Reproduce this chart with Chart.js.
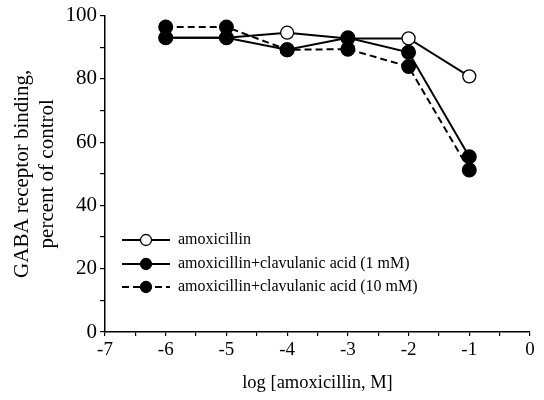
<!DOCTYPE html>
<html lang="en">
<head>
<meta charset="utf-8">
<script src="https://cdn.jsdelivr.net/npm/chart.js@4"></script>
<style>
  html, body { margin: 0; padding: 0; background: #fff; }
  #wrap { width: 544px; height: 400px; }
</style>
</head>
<body>
<div id="wrap"><canvas id="chart" width="544" height="400"></canvas></div>
<script>
    // values
    const logDose = [-6, -5, -4, -3, -2, -1];
    const amoxicillin = [93, 93, 94.6, 92.8, 92.8, 80.8];
    const clav1mM = [93, 93, 89.2, 93, 88.4, 55.4];
    const clav10mM = [96.4, 96.4, 89.2, 89.4, 83.9, 51.2];
    const seriesNames = [
        'amoxicillin',
        'amoxicillin+clavulanic acid (1 mM)',
        'amoxicillin+clavulanic acid (10 mM)'
    ];
    const xTicks = [-7, -6, -5, -4, -3, -2, -1, 0];
    const yTicks = [0, 20, 40, 60, 80, 100];

    const serif = 'Liberation Serif';

    function pts(ys) {
        return logDose.map((x, i) => ({ x: x, y: ys[i] }));
    }

    // legend drawn inside the plot, lower left
    const innerLegend = {
        id: 'innerLegend',
        afterDraw(chart) {
            const ctx = chart.ctx;
            const x0 = 122, x1 = 170, xm = 146, xt = 178;
            const rows = [240, 264, 287];
            ctx.save();
            ctx.font = '16px "' + serif + '"';
            ctx.textBaseline = 'middle';
            ctx.fillStyle = '#000';
            chart.data.datasets.forEach((ds, i) => {
                const y = rows[i];
                ctx.strokeStyle = '#000';
                ctx.lineWidth = 2;
                ctx.setLineDash(ds.borderDash || []);
                ctx.beginPath();
                ctx.moveTo(x0, y);
                ctx.lineTo(x1, y);
                ctx.stroke();
                ctx.setLineDash([]);
                ctx.beginPath();
                ctx.arc(xm, y, 5.5, 0, Math.PI * 2);
                ctx.fillStyle = ds.pointBackgroundColor;
                ctx.fill();
                ctx.lineWidth = 1.3;
                ctx.stroke();
                ctx.fillStyle = '#000';
                ctx.fillText(ds.label, xt, y);
            });
            ctx.restore();
        }
    };

    new Chart(document.getElementById('chart').getContext('2d'), {
        type: 'line',
        data: {
            datasets: [
                {
                    label: seriesNames[0],
                    data: pts(amoxicillin),
                    borderColor: '#000',
                    borderWidth: 2,
                    pointRadius: 6.5,
                    pointBackgroundColor: '#fff',
                    pointBorderColor: '#000',
                    pointBorderWidth: 1.3,
                    order: 3,
                    clip: false
                },
                {
                    label: seriesNames[1],
                    data: pts(clav1mM),
                    borderColor: '#000',
                    borderWidth: 2,
                    pointRadius: 6.5,
                    pointBackgroundColor: '#000',
                    pointBorderColor: '#000',
                    order: 1,
                    clip: false
                },
                {
                    label: seriesNames[2],
                    data: pts(clav10mM),
                    borderColor: '#000',
                    borderWidth: 2,
                    borderDash: [7, 4],
                    pointRadius: 6.5,
                    pointBackgroundColor: '#000',
                    pointBorderColor: '#000',
                    order: 2,
                    clip: false
                }
            ]
        },
        options: {
            responsive: false,
            animation: false,
            layout: { padding: { top: 11, right: 14, left: 0, bottom: 0 } },
            plugins: {
                legend: { display: false },
                tooltip: { enabled: false }
            },
            scales: {
                x: {
                    type: 'linear',
                    min: xTicks[0],
                    max: xTicks[xTicks.length - 1],
                    afterFit(scale) { scale.height = 68; },
                    border: { display: true, color: '#000', width: 1.5 },
                    grid: { drawOnChartArea: false, drawTicks: true, tickLength: 4, color: '#000', lineWidth: 1.2 },
                    ticks: {
                        stepSize: 0.5,
                        autoSkip: false,
                        maxRotation: 0,
                        padding: 3,
                        color: '#000',
                        font: { family: serif, size: 19 },
                        callback: (v) => xTicks.includes(v) ? String(v) : ''
                    },
                    title: {
                        display: true,
                        text: 'log [amoxicillin, M]',
                        color: '#000',
                        font: { family: serif, size: 18.5 },
                        padding: { top: 0, bottom: 5.8 }
                    }
                },
                y: {
                    min: yTicks[0],
                    max: yTicks[yTicks.length - 1],
                    afterFit(scale) { scale.width = 105; },
                    border: { display: true, color: '#000', width: 1.5 },
                    grid: { drawOnChartArea: false, drawTicks: true, tickLength: 5, color: '#000', lineWidth: 1.2 },
                    ticks: {
                        stepSize: 10,
                        autoSkip: false,
                        padding: 3,
                        color: '#000',
                        font: { family: serif, size: 21 },
                        callback: (v) => yTicks.includes(v) ? String(v) : ''
                    },
                    title: {
                        display: true,
                        text: ['GABA receptor binding,', 'percent of control'],
                        color: '#000',
                        font: { family: serif, size: 21, lineHeight: 1.2 },
                        padding: { top: 9.4, bottom: 0 }
                    }
                }
            }
        },
        plugins: [innerLegend]
    });
</script>
</body>
</html>
